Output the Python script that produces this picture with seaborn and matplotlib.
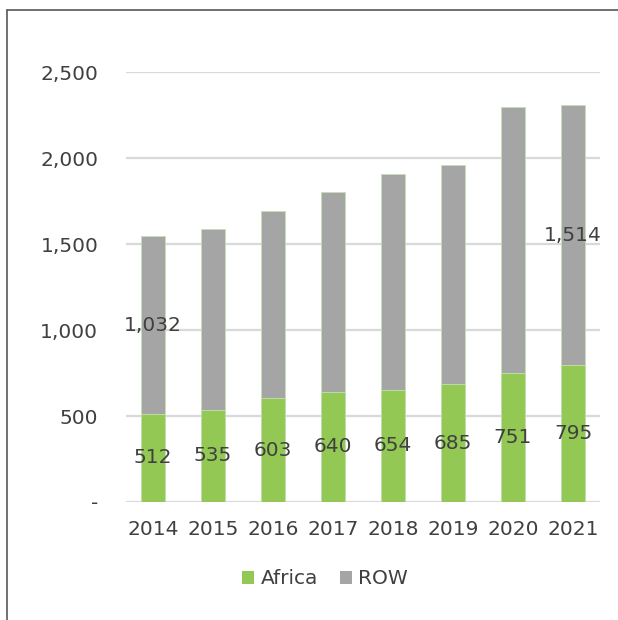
import matplotlib
matplotlib.use("Agg")
import matplotlib.pyplot as plt
from matplotlib.lines import Line2D
from matplotlib.patches import Patch
import seaborn as sns
import pandas as pd
import numpy as np

years = ["2014", "2015", "2016", "2017", "2018", "2019", "2020", "2021"]
africa = [512, 535, 603, 640, 654, 685, 751, 795]
row = [1032, 1052, 1089, 1165, 1251, 1272, 1545, 1514]
row_labels_shown = {"2014": "1,032", "2021": "1,514"}

sns.set_theme(style="white")
plt.rcParams['font.family'] = ['DejaVu Sans']

green = "#92C853"
gray = "#A5A5A5"
txt = "#404040"
fs = 14.5

df = pd.DataFrame({"year": years, "Africa": africa, "ROW": row})
df["total"] = df["Africa"] + df["ROW"]

fig = plt.figure(figsize=(6.18, 6.20), dpi=100)
ax = fig.add_axes([126/618, 1 - 502/620, (600-126)/618, (502-72)/620])

sns.barplot(data=df, x="year", y="total", color=gray, width=0.4, ax=ax,
            saturation=1, edgecolor="#C5E0B4", linewidth=0.6, zorder=2)
sns.barplot(data=df, x="year", y="Africa", color=green, width=0.4, ax=ax,
            saturation=1, edgecolor="#C5E0B4", linewidth=0.6, zorder=3)

ax.set_ylim(0, 2500)
ax.set_xlim(-0.45, 7.45)
ax.set_yticks([0, 500, 1000, 1500, 2000, 2500])
ax.set_yticklabels(["-", "500", "1,000", "1,500", "2,000", "2,500"])
ax.yaxis.grid(True, color="#D9D9D9", linewidth=1.6, zorder=0)
ax.set_axisbelow(True)
for s in ax.spines.values():
    s.set_visible(False)
ax.set_xlabel("")
ax.set_ylabel("")
ax.tick_params(axis="y", labelsize=fs, colors=txt, pad=20, length=0)
ax.tick_params(axis="x", labelsize=fs, colors=txt, pad=13, length=0)

for i, (y, a, r) in enumerate(zip(years, africa, row)):
    ax.text(i, a / 2, f"{a:,}", ha="center", va="center", fontsize=fs,
            color=txt, zorder=5)
    if y in row_labels_shown:
        ax.text(i, a + r / 2, row_labels_shown[y], ha="center", va="center",
                fontsize=fs, color=txt, zorder=5)

handles = [Patch(facecolor=green, edgecolor="none", label="Africa"),
           Patch(facecolor=gray, edgecolor="none", label="ROW")]
fig.legend(handles=handles, loc="center", bbox_to_anchor=(325/618, 1 - 579/620),
           ncol=2, frameon=False, fontsize=fs, handlelength=0.6,
           handleheight=0.6, handletextpad=0.3, columnspacing=1.1,
           labelcolor=txt)

fig.add_artist(Line2D([7/618, 1], [1 - 10/620, 1 - 10/620], color="#595959",
                      linewidth=1.2, transform=fig.transFigure))
fig.add_artist(Line2D([7/618, 7/618], [0, 1 - 10/620], color="#595959",
                      linewidth=1.2, transform=fig.transFigure))

fig.savefig("out.png", dpi=100)
